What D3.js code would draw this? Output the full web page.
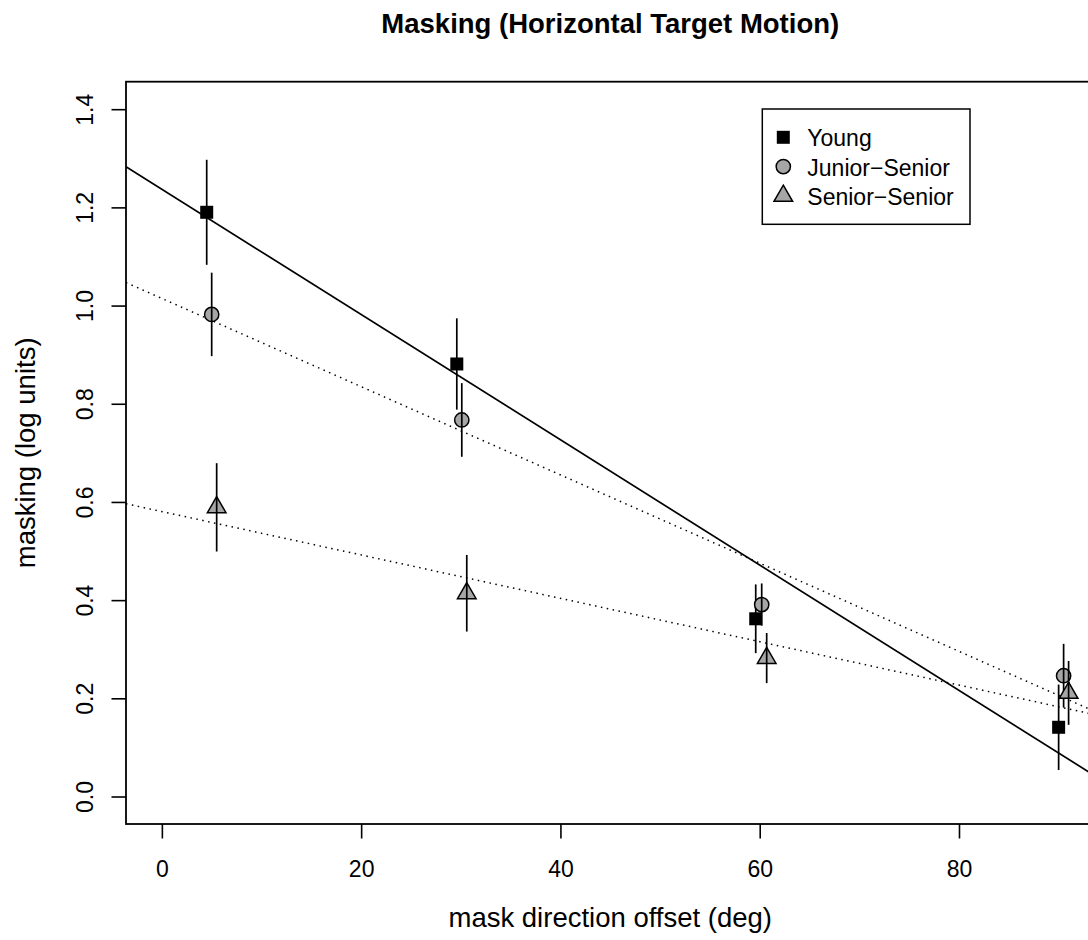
<!DOCTYPE html>
<html>
<head>
<meta charset="utf-8">
<script src="https://cdn.jsdelivr.net/npm/d3@7"></script>
<style>
  body { margin: 0; background: #fff; }
  text { font-family: "Liberation Sans", Arial, Helvetica, sans-serif; fill: #000; }
</style>
</head>
<body>
<div id="chart-holder"></div>
<script>
// DATA
var groups = ["Young", "Junior\u2212Senior", "Senior\u2212Senior"];
var shapes = ["square", "circle", "triangle"];
var fills = ["#000000", "#a6a6a6", "#a6a6a6"];

var youngX = [4.5, 29.6, 59.6, 90.0];
var youngY = [1.190, 0.881, 0.362, 0.141];
var youngErr = [0.107, 0.093, 0.070, 0.087];

var juniorX = [5.0, 30.1, 60.2, 90.5];
var juniorY = [0.982, 0.767, 0.391, 0.246];
var juniorErr = [0.085, 0.075, 0.043, 0.065];

var seniorX = [5.5, 30.6, 60.7, 91.0];
var seniorY = [0.589, 0.414, 0.282, 0.211];
var seniorErr = [0.090, 0.078, 0.051, 0.065];

// regression lines (intercept, slope) per group
var fitIntercept = [1.237, 1.0145, 0.5804];
var fitSlope = [-0.01276, -0.008985, -0.004418];
var fitDash = [null, "1.5,4.5", "1.5,4.5"];

var xTicks = [0, 20, 40, 60, 80];
var yTicks = [0.0, 0.2, 0.4, 0.6, 0.8, 1.0, 1.2, 1.4];

// SIZES
var w = 1088;
var h = 940;
var plot = { left: 126, top: 81.7, right: 1094.5, bottom: 824 };

var x = d3
  .scaleLinear()
  .domain([-3.6, 93.6])
  .range([plot.left, plot.right])
;
var y = d3
  .scaleLinear()
  .domain([-0.056, 1.456])
  .range([plot.bottom, plot.top])
;

var series = [
  { xs: youngX, ys: youngY, err: youngErr },
  { xs: juniorX, ys: juniorY, err: juniorErr },
  { xs: seniorX, ys: seniorY, err: seniorErr }
];

var symbolType = {
  square: d3.symbolSquare,
  circle: d3.symbolCircle,
  triangle: d3.symbolTriangle
};
var symbolSize = { square: 169, circle: 160, triangle: 150 };

function symbolPath(shape) {
  return d3.symbol().type(symbolType[shape]).size(symbolSize[shape])();
}

var svg = d3
  .select("#chart-holder")
  .append("svg")
  .attr("width", w)
  .attr("height", h)
;

svg.append("defs")
  .append("clipPath")
  .attr("id", "plot-clip")
  .append("rect")
  .attr("x", plot.left)
  .attr("y", plot.top)
  .attr("width", plot.right - plot.left)
  .attr("height", plot.bottom - plot.top)
;

// title
svg.append("text")
  .attr("x", (plot.left + plot.right) / 2)
  .attr("y", 33)
  .attr("text-anchor", "middle")
  .style("font-size", "27.5px")
  .style("font-weight", "bold")
  .text("Masking (Horizontal Target Motion)")
;

// x axis
var xAxis = svg.append("g")
  .attr("transform", "translate(0," + plot.bottom + ")")
  .call(d3.axisBottom(x).tickValues(xTicks).tickSize(14.5).tickFormat(d3.format("d")))
;
xAxis.select(".domain").remove();
xAxis.selectAll("line").attr("stroke", "#000").attr("stroke-width", 1.6);
xAxis.selectAll("text")
  .attr("y", 53)
  .attr("dy", null)
  .attr("fill", "#000")
  .style("font-size", "23px")
  .style("font-family", "Liberation Sans, Arial, sans-serif")
;

// y axis
var yAxis = svg.append("g")
  .attr("transform", "translate(" + plot.left + ",0)")
  .call(d3.axisLeft(y).tickValues(yTicks).tickSize(14.5).tickFormat(d3.format(".1f")))
;
yAxis.select(".domain").remove();
yAxis.selectAll("line").attr("stroke", "#000").attr("stroke-width", 1.6);
yAxis.selectAll("text")
  .attr("x", null)
  .attr("dy", null)
  .attr("text-anchor", "middle")
  .attr("transform", "translate(-33.3,0) rotate(-90)")
  .attr("fill", "#000")
  .style("font-size", "23px")
  .style("font-family", "Liberation Sans, Arial, sans-serif")
;

// axis titles
svg.append("text")
  .attr("x", (plot.left + plot.right) / 2)
  .attr("y", 926.7)
  .attr("text-anchor", "middle")
  .style("font-size", "27.5px")
  .text("mask direction offset (deg)")
;
svg.append("text")
  .attr("transform", "translate(35," + (plot.top + plot.bottom) / 2 + ") rotate(-90)")
  .attr("text-anchor", "middle")
  .style("font-size", "27.5px")
  .text("masking (log units)")
;

// fit lines
var fits = svg.append("g").attr("clip-path", "url(#plot-clip)");
fits.selectAll("line")
  .data(groups)
  .enter()
  .append("line")
  .attr("x1", x(-3.6))
  .attr("x2", x(93.6))
  .attr("y1", function(d, i) { return y(fitIntercept[i] + fitSlope[i] * -3.6); })
  .attr("y2", function(d, i) { return y(fitIntercept[i] + fitSlope[i] * 93.6); })
  .attr("stroke", "#000")
  .attr("stroke-width", function(d, i) { return fitDash[i] ? 1.5 : 1.7; })
  .attr("stroke-dasharray", function(d, i) { return fitDash[i]; })
;

// points then error bars
series.forEach(function(s, gi) {
  var pts = s.xs.map(function(v, i) {
    return { x: v, y: s.ys[i], e: s.err[i] };
  });
  svg.append("g")
    .selectAll("path")
    .data(pts)
    .enter()
    .append("path")
    .attr("d", symbolPath(shapes[gi]))
    .attr("transform", function(d) { return "translate(" + x(d.x) + "," + y(d.y) + ")"; })
    .attr("fill", fills[gi])
    .attr("stroke", gi === 0 ? "none" : "#000")
    .attr("stroke-width", 1.5)
  ;
  svg.append("g")
    .selectAll("line")
    .data(pts)
    .enter()
    .append("line")
    .attr("x1", function(d) { return x(d.x); })
    .attr("x2", function(d) { return x(d.x); })
    .attr("y1", function(d) { return y(d.y + d.e); })
    .attr("y2", function(d) { return y(d.y - d.e); })
    .attr("stroke", "#000")
    .attr("stroke-width", 1.7)
  ;
});

// box
svg.append("rect")
  .attr("x", plot.left)
  .attr("y", plot.top)
  .attr("width", plot.right - plot.left)
  .attr("height", plot.bottom - plot.top)
  .attr("fill", "none")
  .attr("stroke", "#000")
  .attr("stroke-width", 1.8)
;

// legend
var legend = svg.append("g").attr("transform", "translate(762.3,109)");
legend.append("rect")
  .attr("width", 207.7)
  .attr("height", 115.3)
  .attr("fill", "#fff")
  .attr("stroke", "#000")
  .attr("stroke-width", 1.5)
;
var items = legend.selectAll("g.item")
  .data(groups)
  .enter()
  .append("g")
  .attr("class", "item")
  .attr("transform", function(d, i) { return "translate(0," + (28.3 + i * 29.3) + ")"; })
;
items.append("path")
  .attr("d", function(d, i) { return symbolPath(shapes[i]); })
  .attr("transform", "translate(21,0)")
  .attr("fill", function(d, i) { return fills[i]; })
  .attr("stroke", function(d, i) { return i === 0 ? "none" : "#000"; })
  .attr("stroke-width", 1.5)
;
items.append("text")
  .attr("x", 45)
  .attr("y", 9)
  .style("font-size", "23px")
  .text(function(d) { return d; })
;
</script>
</body>
</html>
